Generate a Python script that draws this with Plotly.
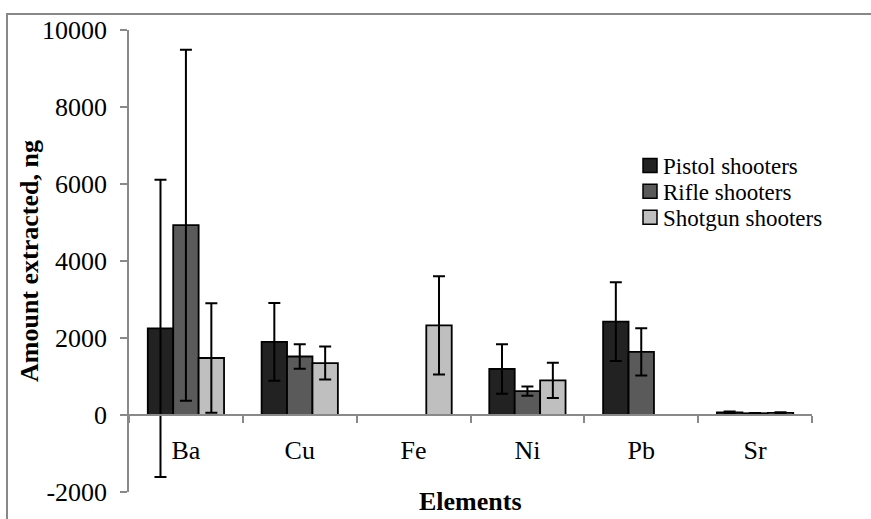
import plotly.graph_objects as go

# Elements analysed and mean amounts extracted (ng) per shooter group
elements = ["Ba", "Cu", "Fe", "Ni", "Pb", "Sr"]

pistol = [2250, 1900, None, 1195, 2425, 70]
pistol_err = [3860, 1010, 0, 645, 1020, 20]

rifle = [4930, 1520, None, 620, 1640, 45]
rifle_err = [4560, 320, 0, 120, 615, 10]

shotgun = [1480, 1350, 2330, 900, None, 55]
shotgun_err = [1420, 430, 1275, 460, 0, 15]

series_names = ["Pistol shooters", "Rifle shooters", "Shotgun shooters"]
series_colors = ["#222222", "#5a5a5a", "#bfbfbf"]

y_ticks = [-2000, 0, 2000, 4000, 6000, 8000, 10000]

FONT = "Liberation Serif, Times New Roman, serif"
AXIS_GREY = "#898989"

# plot-area geometry in pixels (871 x 519 canvas)
W, H = 871, 519
L, R, T, B = 129, 59, 30, 25
PW, PH = W - L - R, H - T - B


def px(x):
    return (x - L) / PW


def py(y):
    return (H - B - y) / PH


fig = go.Figure()
for name, vals, errs, col in zip(series_names,
                                 [pistol, rifle, shotgun],
                                 [pistol_err, rifle_err, shotgun_err],
                                 series_colors):
    fig.add_trace(go.Bar(
        x=elements, y=vals, name=name,
        marker=dict(color=col, line=dict(color="#000000", width=1.8)),
        error_y=dict(type="data", array=errs, visible=True,
                     color="#000000", thickness=2, width=6),
        showlegend=False,
    ))

# legend drawn as swatches + labels
leg_x_sq, leg_x_txt = 643, 662
leg_rows = [166, 192, 218]
shapes = []
annotations = []
for name, col, yr in zip(series_names, series_colors, leg_rows):
    shapes.append(dict(type="rect", xref="paper", yref="paper",
                       x0=px(leg_x_sq), x1=px(leg_x_sq + 14),
                       y0=py(yr + 7), y1=py(yr - 7),
                       fillcolor=col, line=dict(color="#000000", width=1.5)))
    annotations.append(dict(text=name, xref="paper", yref="paper",
                            x=px(leg_x_txt), y=py(yr + 1), xanchor="left",
                            yanchor="middle", showarrow=False, borderpad=0,
                            font=dict(family=FONT, size=23, color="#000000")))

# outer frame
shapes.append(dict(type="rect", xref="paper", yref="paper",
                   x0=px(7), y0=py(540), x1=px(890), y1=py(14),
                   line=dict(color="#888888", width=2), fillcolor="rgba(0,0,0,0)",
                   layer="below"))

# axis titles
annotations.append(dict(text="<b>Elements</b>", xref="paper", yref="paper",
                        x=0.5, y=py(504), xanchor="center", yanchor="middle",
                        showarrow=False,
                        font=dict(family=FONT, size=26, color="#000000")))
annotations.append(dict(text="<b>Amount extracted, ng</b>", xref="paper",
                        yref="paper", x=px(29), y=0.5, xanchor="center",
                        yanchor="middle", textangle=-90, showarrow=False,
                        font=dict(family=FONT, size=26, color="#000000")))

fig.update_layout(
    width=W, height=H,
    margin=dict(l=L, r=R, t=T, b=B, pad=0),
    paper_bgcolor="#ffffff", plot_bgcolor="#ffffff",
    barmode="group", bargap=0.33, bargroupgap=0,
    font=dict(family=FONT, size=26, color="#000000"),
    shapes=shapes, annotations=annotations,
    xaxis=dict(
        type="category", categoryorder="array", categoryarray=elements,
        range=[-0.5, 5.5], anchor="free",
        position=(0 - y_ticks[0]) / (y_ticks[-1] - y_ticks[0]),
        showline=True, linecolor=AXIS_GREY, linewidth=1.5,
        ticks="outside", tickson="boundaries", ticklen=7,
        tickcolor=AXIS_GREY, tickwidth=1.5,
        ticklabelstandoff=12, showgrid=False, zeroline=False,
        tickfont=dict(family=FONT, size=26, color="#000000"),
    ),
    yaxis=dict(
        range=[y_ticks[0], y_ticks[-1]], tickvals=y_ticks,
        ticktext=[str(v) for v in y_ticks],
        showline=True, linecolor=AXIS_GREY, linewidth=1.5,
        ticks="outside", ticklen=7, tickcolor=AXIS_GREY, tickwidth=1.5,
        ticklabelstandoff=8, showgrid=False, zeroline=False,
        tickfont=dict(family=FONT, size=26, color="#000000"),
    ),
)

fig.write_html("out.html")
